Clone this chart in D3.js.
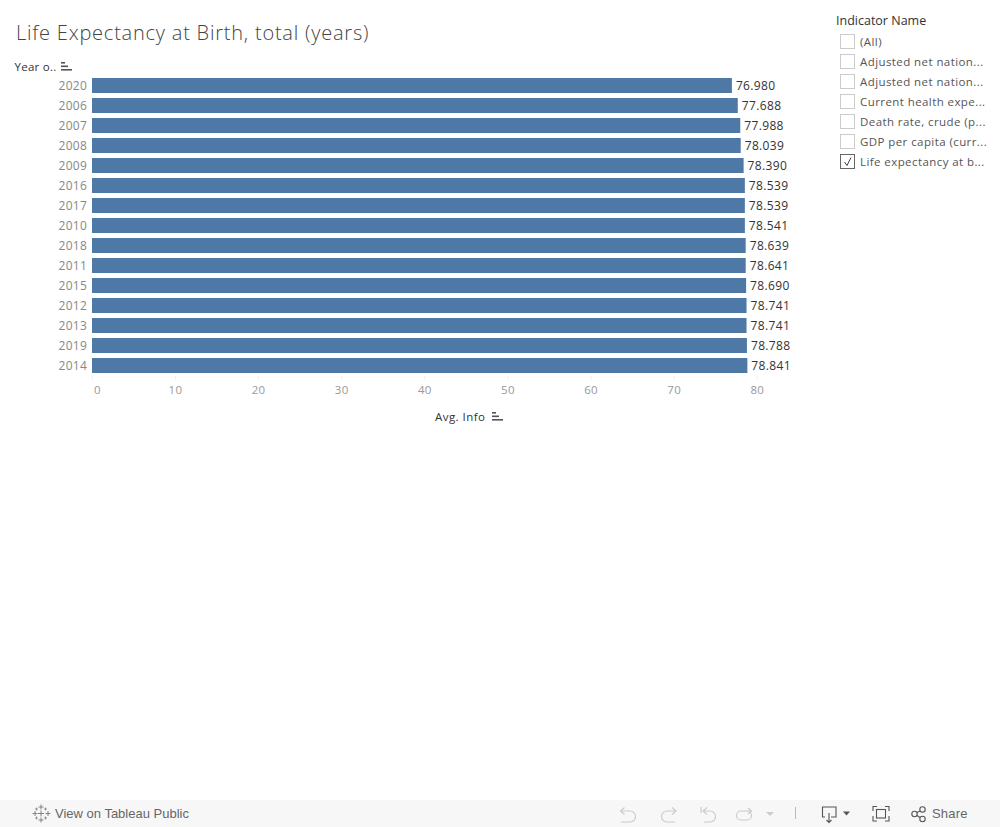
<!DOCTYPE html>
<html><head><meta charset="utf-8">
<script src="https://cdn.jsdelivr.net/npm/d3@7/dist/d3.min.js"></script>
<style>html,body{margin:0;padding:0;background:#fff;overflow:hidden}svg{display:block}text{font-family:"Open Sans",sans-serif}</style>
</head><body><svg id="c" width="1000" height="827"></svg>
<script>
const years=["2020","2006","2007","2008","2009","2016","2017","2010","2018","2011","2015","2012","2013","2019","2014"];
const values=[76.980,77.688,77.988,78.039,78.390,78.539,78.539,78.541,78.639,78.641,78.690,78.741,78.741,78.788,78.841];
const xTicks=[0,10,20,30,40,50,60,70,80];
const filterItems=["(All)","Adjusted net nation...","Adjusted net nation...","Current health expe...","Death rate, crude (p...","GDP per capita (curr...","Life expectancy at b..."];
const checked=[false,false,false,false,false,false,true];
const svg=d3.select("#c");
const x=d3.scaleLinear().domain([0,80]).range([92,757]);
const y=d3.scaleBand().domain(years).range([75.5,375.5]).paddingInner(0.25).paddingOuter(0.125);

svg.append("text").attr("x",16).attr("y",40).attr("font-size",20).attr("font-weight",300).attr("letter-spacing",0.78).attr("fill","#444").text("Life Expectancy at Birth, total (years)");
function sortIcon(xp,yp){
  [4,7,11].forEach((w,i)=>svg.append("rect").attr("x",xp).attr("y",yp+i*3.5).attr("width",w).attr("height",1.6).attr("fill","#555"));
}
svg.append("text").attr("x",14.5).attr("y",71).attr("font-size",11.5).attr("letter-spacing",0.25).attr("fill","#333").text("Year o..");
sortIcon(61,62);

svg.selectAll("rect.bar").data(values).join("rect").attr("class","bar")
 .attr("x",x(0)).attr("y",(d,i)=>y(years[i])).attr("width",d=>x(d)-x(0)).attr("height",y.bandwidth()).attr("fill","#4e79a7");
svg.selectAll("text.val").data(values).join("text").attr("class","val")
 .attr("x",d=>x(d)+4).attr("y",(d,i)=>y(years[i])+y.bandwidth()/2+4).attr("font-size",12).attr("letter-spacing",0.35).attr("fill","#333").text(d=>d.toFixed(3));
svg.selectAll("text.yr").data(years).join("text").attr("class","yr")
 .attr("x",87).attr("y",d=>y(d)+y.bandwidth()/2+4).attr("text-anchor","end").attr("font-size",12).attr("letter-spacing",0.25).attr("fill","#888").text(d=>d);

const axis=d3.axisBottom(x).tickValues(xTicks).tickSize(4).tickFormat(d3.format("d"));
const g=svg.append("g").attr("transform","translate(-0.2,376)").call(axis);
g.select(".domain").remove();
g.selectAll(".tick line").attr("stroke","#eee");
g.selectAll(".tick text").attr("font-size",11.5).attr("letter-spacing",0.25).attr("fill","#999").attr("font-family",'"Open Sans",sans-serif').attr("y",10).attr("dy","0.71em");
g.selectAll(".tick text").filter(d=>d===0).attr("dx",5);

svg.append("text").attr("x",435).attr("y",421).attr("font-size",11.5).attr("letter-spacing",0.45).attr("fill","#333").text("Avg. Info");
sortIcon(492,412);

svg.append("text").attr("x",836).attr("y",25).attr("font-size",12.5).attr("fill","#333").text("Indicator Name");
const row=svg.selectAll("g.f").data(filterItems).join("g").attr("class","f").attr("transform",(d,i)=>`translate(0,${34+i*20})`);
row.append("rect").attr("x",840.5).attr("y",.5).attr("width",14).attr("height",14).attr("fill","#fff").attr("stroke",(d,i)=>checked[i]?"#666":"#ccc");
row.append("text").attr("x",860).attr("y",12).attr("font-size",11.5).attr("letter-spacing",0.42).attr("fill","#555").text(d=>d);
row.filter((d,i)=>checked[i]).append("path").attr("d","M844.5 8 L847 11.5 L851 3.5").attr("fill","none").attr("stroke","#444").attr("stroke-width",1);

// toolbar
svg.append("rect").attr("x",0).attr("y",800).attr("width",1000).attr("height",27).attr("fill","#f7f7f7");
const tb=svg.append("g").attr("fill","none").attr("stroke","#777").attr("stroke-width",.9);
[[41,807],[41,820],[35,813.5],[48,813.5]].forEach(([a,b])=>tb.append("path").attr("d",`M${a} ${b-2.5}V${b+2.5}M${a-2.5} ${b}H${a+2.5}`));
tb.append("path").attr("d","M41 810.5V816.5M38 813.5H44");
[[36.5,809],[45.5,809],[36.5,818],[45.5,818]].forEach(([a,b])=>tb.append("path").attr("d",`M${a-1.5} ${b}H${a+1.5}M${a} ${b-1.5}V${b+1.5}`).attr("stroke-width",.7));
svg.append("text").attr("x",55).attr("y",818).style("font-family","Liberation Sans").attr("font-size",13).attr("fill","#666").text("View on Tableau Public");
const off=svg.append("g").attr("fill","none").attr("stroke","#ccc").attr("stroke-width",1.2);
off.append("path").attr("d","M621 811H630A5.5 5.5 0 0 1 630 822H621M624.5 807.5L620.5 811L624.5 814.5");
off.append("path").attr("d","M676 811H667A5.5 5.5 0 0 0 667 822H675M672 807.5L676 811L672 814.5");
off.append("path").attr("d","M701 807V813M703 811H710A5.5 5.5 0 0 1 710 822H704M707 807.5L703 811L707 814.5");
off.append("path").attr("d","M741 811H747A4.5 4.5 0 0 1 747 820H741A4.5 4.5 0 0 1 741 811H751M748 808L751.5 811L748 814");
svg.append("path").attr("d","M766 812H774L770 816Z").attr("fill","#ccc");
svg.append("path").attr("d","M795.5 807V819").attr("stroke","#bbb");
const on=svg.append("g").attr("fill","none").attr("stroke","#555").attr("stroke-width",1.1);
on.append("path").attr("d","M825 817H822.5V807H836V817H831M829 813V822M826.5 820L829 822.5L831.5 820");
svg.append("path").attr("d","M843 811.5H850L846.5 815.5Z").attr("fill","#555");
on.append("path").attr("d","M873 811V806.5H877M885 806.5H889V811M889 816V821H885M877 821H873V816");
on.append("rect").attr("x",876.5).attr("y",809.5).attr("width",9).attr("height",8.5);
on.append("circle").attr("cx",914.5).attr("cy",814).attr("r",2.7);
on.append("circle").attr("cx",922.5).attr("cy",809.5).attr("r",2.7);
on.append("circle").attr("cx",922.5).attr("cy",819).attr("r",2.7);
on.append("path").attr("d","M917 812.5L920 811M917 815.5L920 817.5");
svg.append("text").attr("x",932).attr("y",818).style("font-family","Liberation Sans").attr("font-size",13).attr("letter-spacing",0.2).attr("fill","#666").text("Share");
</script></body></html>
